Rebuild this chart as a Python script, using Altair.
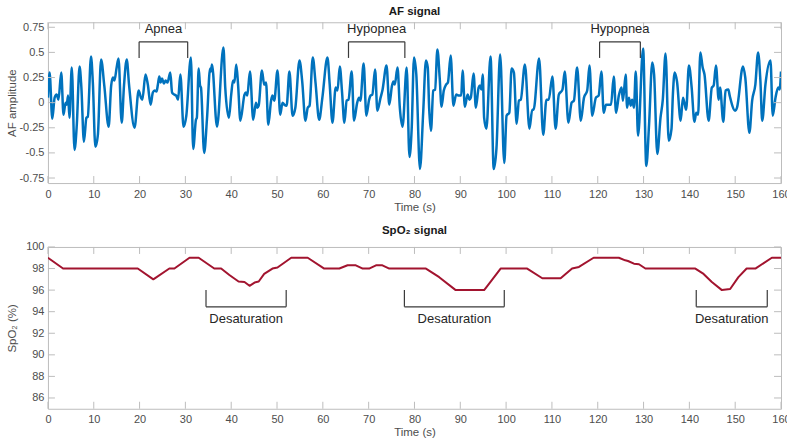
import altair as alt
import pandas as pd

FONT = "Liberation Sans"

# ---------------- data ----------------
af_t = [0.0, 0.36, 0.95, 1.46, 1.9, 2.3, 2.9, 3.4, 3.85, 4.1, 4.4, 4.7, 5.2, 5.8, 6.3, 6.9, 7.3, 7.85, 8.4, 8.7,
        9.4, 9.8, 10.35, 10.9, 11.6, 12.3, 13.25, 13.8, 14.2, 14.5, 15.0, 15.4, 16.1, 16.6, 17.2, 17.7, 18.9,
        19.8, 20.3, 20.6, 21.3, 21.8, 22.4, 22.9, 23.3, 23.7, 24.0, 24.3, 24.6, 24.9, 25.3, 25.7, 26.1, 26.7,
        27.1, 27.6, 28.0, 28.4, 28.9, 29.6, 30.2, 31.2, 31.7, 32.3, 32.5, 32.9, 33.2, 33.4, 34.1, 34.7, 35.4,
        35.6, 35.8, 36.9, 38.3, 38.7, 39.5, 40.0, 40.4, 40.7, 41.1, 41.5, 42.0, 42.9, 43.2, 43.5, 44.1, 44.8,
        45.4, 45.7, 46.0, 46.7, 47.2, 47.6, 48.1, 48.7, 49.0, 49.4, 50.1, 50.7, 51.2, 51.6, 52.1, 52.7, 53.4,
        54.0, 54.9, 55.5, 56.2, 56.7, 57.1, 57.8, 58.4, 59.2, 59.9, 61.0, 61.5, 62.1, 62.8, 63.2, 63.7, 64.2,
        64.7, 65.2, 65.6, 66.3, 66.8, 67.5, 67.9, 68.2, 68.9, 69.5, 70.1, 70.4, 70.8, 71.4, 71.9, 72.6, 73.0,
        73.9, 74.5, 75.1, 75.4, 75.7, 76.3, 76.8, 77.4, 78.3, 78.9, 79.4, 79.9, 80.4, 81.2, 81.9, 82.5, 82.9,
        83.2, 83.6, 84.1, 84.5, 85.0, 85.5, 85.9, 86.4, 86.9, 87.3, 87.9, 88.5, 89.1, 89.7, 90.2, 90.5, 91.0,
        91.6, 92.0, 92.3, 92.9, 93.4, 94.0, 94.3, 94.6, 94.9, 95.2, 95.7, 96.6, 97.3, 97.9, 98.7, 99.6, 100.1,
        100.7, 101.2, 101.7, 102.3, 102.8, 103.2, 104.1, 105.1, 105.7, 106.0, 107.2, 108.1, 108.8, 109.3,
        110.1, 110.8, 111.5, 112.3, 112.8, 113.6, 114.3, 114.8, 115.5, 116.3, 117.0, 117.7, 118.2, 118.8,
        119.6, 120.2, 120.8, 121.3, 121.8, 122.4, 122.9, 123.5, 124.0, 124.6, 125.2, 125.5, 126.1, 126.4,
        126.8, 127.2, 127.5, 127.9, 128.3, 128.8, 129.9, 130.6, 131.2, 131.9, 132.3, 133.0, 133.7, 134.2,
        134.8, 135.5, 136.1, 136.4, 136.8, 137.3, 138.1, 138.6, 139.0, 139.3, 139.9, 140.5, 141.1, 141.5,
        141.9, 142.4, 142.9, 143.3, 144.2, 144.9, 145.3, 145.8, 146.4, 146.7, 147.4, 147.9, 148.5, 148.8,
        150.0, 150.4, 151.7, 152.2, 153.1, 153.7, 154.4, 155.0, 155.5, 155.9, 156.6, 157.7, 158.2, 158.8,
        159.4, 159.7, 160.0]
af_v = [0.05, 0.30, -0.16, 0.05, 0.08, 0.03, 0.30, -0.12, 0.0, -0.02, 0.07, -0.15, 0.35, -0.47, -0.22, 0.36,
        0.15, -0.39, -0.15, -0.14, 0.46, 0.20, -0.44, -0.32, 0.43, 0.17, -0.24, 0.17, 0.25, 0.22, 0.35, 0.44,
        -0.20, 0.17, 0.43, 0.18, -0.25, 0.12, 0.05, 0.03, 0.28, 0.18, -0.02, 0.10, 0.12, 0.11, 0.18, 0.26, 0.20,
        0.24, 0.19, 0.22, 0.20, 0.30, 0.10, 0.08, 0.07, 0.03, 0.28, -0.24, -0.13, 0.45, -0.46, -0.17, -0.15,
        0.34, 0.17, 0.15, -0.50, -0.17, 0.34, 0.31, 0.38, -0.24, 0.55, 0.15, -0.15, 0.08, 0.22, 0.20, 0.38,
        0.18, -0.18, 0.08, 0.10, 0.07, 0.31, -0.17, 0.0, -0.05, -0.03, 0.32, 0.18, 0.20, -0.22, 0.02, 0.07,
        0.02, 0.32, -0.12, 0.0, -0.02, -0.03, 0.31, -0.13, -0.05, 0.42, 0.21, -0.18, -0.05, -0.03, 0.45, 0.20,
        -0.17, 0.05, 0.45, 0.18, -0.20, 0.15, 0.12, 0.36, 0.10, -0.20, 0.02, 0.03, 0.31, -0.18, 0.0, 0.05,
        0.02, 0.39, -0.13, 0.03, 0.07, 0.08, 0.33, -0.08, 0.05, 0.12, 0.37, -0.02, 0.17, 0.21, 0.18, 0.35,
        -0.05, -0.24, 0.35, -0.54, -0.25, 0.45, 0.28, -0.66, -0.10, 0.42, 0.35, -0.05, -0.28, 0.12, 0.13,
        0.53, 0.25, -0.04, 0.12, 0.18, 0.20, 0.47, -0.03, 0.08, 0.07, 0.07, 0.32, -0.04, 0.08, 0.03, 0.05,
        0.29, -0.05, 0.15, 0.17, 0.13, 0.28, -0.15, -0.26, 0.46, -0.66, -0.45, 0.48, -0.60, -0.13, -0.10,
        0.34, 0.30, -0.21, 0.02, 0.03, 0.38, -0.26, -0.07, -0.07, 0.44, -0.32, 0.03, 0.03, 0.26, -0.26, 0.08,
        0.13, 0.31, -0.20, 0.0, 0.02, 0.35, -0.18, 0.05, 0.12, 0.37, -0.13, 0.05, 0.07, 0.31, -0.10, -0.02,
        -0.02, -0.02, 0.26, -0.10, 0.07, 0.15, 0.02, 0.28, -0.05, 0.05, -0.03, 0.03, -0.05, 0.31, -0.33, 0.54,
        -0.63, -0.22, 0.40, 0.28, -0.51, -0.15, 0.03, 0.49, -0.38, -0.26, 0.08, 0.30, 0.21, -0.18, 0.05, -0.02,
        -0.07, 0.37, 0.15, -0.19, -0.10, -0.12, 0.50, 0.35, 0.28, -0.18, 0.15, 0.17, 0.37, 0.03, 0.15, -0.19,
        0.12, 0.13, 0.07, -0.08, -0.05, 0.36, 0.25, -0.30, 0.02, 0.18, 0.50, 0.22, -0.18, 0.18, 0.42, -0.13,
        0.05, 0.15, 0.13, 0.31]

spo2_t = [0, 3.3, 19.6, 23.0, 26.5, 27.6, 30.9, 32.9, 36.3, 37.8, 39.6, 41.6, 42.9, 44.0, 45.1, 46.0, 47.2,
          49.0, 50.1, 53.1, 56.7, 60.3, 63.6, 65.4, 67.2, 68.7, 70.1, 71.6, 73.0, 74.5, 82.5, 85.4, 89.0, 95.2,
          96.3, 98.8, 104.6, 107.9, 111.9, 114.4, 115.9, 119.1, 124.6, 126.0, 126.6, 127.9, 129.0, 130.4,
          141.3, 143.1, 144.9, 147.1, 148.9, 150.7, 152.5, 154.4, 158.0, 160.0]
spo2_v = [99.0, 98.0, 98.0, 97.0, 98.0, 98.0, 99.0, 99.0, 98.0, 98.0, 97.4, 96.8, 96.75, 96.4, 96.7, 96.8,
          97.5, 98.0, 98.1, 99.0, 99.0, 98.0, 98.0, 98.3, 98.3, 98.0, 98.0, 98.3, 98.3, 98.0, 98.0, 97.2,
          96.0, 96.0, 96.6, 98.0, 98.0, 97.1, 97.1, 98.0, 98.15, 99.0, 99.0, 98.76, 98.7, 98.45, 98.4, 98.0,
          98.0, 97.5, 96.75, 96.0, 96.1, 97.2, 98.0, 98.0, 99.0, 99.0]

x_ticks = [0, 10, 20, 30, 40, 50, 60, 70, 80, 90, 100, 110, 120, 130, 140, 150, 160]
af_ticks = [-0.75, -0.5, -0.25, 0, 0.25, 0.5, 0.75]
spo2_ticks = [86, 88, 90, 92, 94, 96, 98, 100]

resp_labels = ["Apnea", "Hypopnea", "Hypopnea"]
resp_start = [19.9, 65.6, 120.4]
resp_end = [30.5, 77.9, 129.3]
resp_top, resp_bottom, resp_text = 0.605, 0.445, 0.735

desat_labels = ["Desaturation", "Desaturation", "Desaturation"]
desat_start = [34.5, 77.8, 141.5]
desat_end = [52.0, 99.6, 157.0]
desat_top, desat_bottom, desat_text = 96.0, 94.45, 93.3

# ---------------- styling ----------------
W, H1, H2 = 734, 161, 162
TICK = 7
FRAME = "#bdbdbd"
ANN = "#3a3a3a"


def xenc(field):
    return alt.X(field, type="quantitative",
                 scale=alt.Scale(domain=[0, 160], nice=False, zero=False),
                 axis=alt.Axis(values=x_ticks, title="Time (s)", ticks=False, domain=False, grid=False,
                               labelPadding=5, titlePadding=2, labelFlush=False, labelOverlap=False))


def yenc(field, domain, ticks, title, fmt_expr):
    return alt.Y(field, type="quantitative",
                 scale=alt.Scale(domain=domain, nice=False, zero=False),
                 axis=alt.Axis(values=ticks, title=title, ticks=False, domain=False, grid=False,
                               labelPadding=4, titleX=-35, titleBaseline="middle",
                               labelExpr=fmt_expr, labelFlush=False, labelOverlap=False))


def panel(line_df, line_color, line_w, interp, ydomain, yticks, ytitle, fmt_expr, ev_df, H, title):
    X = xenc("t")
    Y = yenc("v", ydomain, yticks, ytitle, fmt_expr)
    line = alt.Chart(line_df).mark_line(color=line_color, strokeWidth=line_w, interpolate=interp,
                                        strokeJoin="round", clip=True).encode(x=X, y=Y)
    xt = pd.DataFrame({"t": x_ticks})
    yt = pd.DataFrame({"v": yticks})
    tick_style = dict(color=FRAME, strokeWidth=1)
    xb = alt.Chart(xt).mark_rule(**tick_style).encode(x=X, y=alt.value(H), y2=alt.value(H - TICK))
    xtop = alt.Chart(xt).mark_rule(**tick_style).encode(x=X, y=alt.value(0), y2=alt.value(TICK))
    yl = alt.Chart(yt).mark_rule(**tick_style).encode(y=Y, x=alt.value(0), x2=alt.value(TICK))
    yr = alt.Chart(yt).mark_rule(**tick_style).encode(y=Y, x=alt.value(W), x2=alt.value(W - TICK))

    Yh = yenc("yh", ydomain, yticks, ytitle, fmt_expr)
    hbar = alt.Chart(ev_df).mark_rule(color=ANN, strokeWidth=1.2).encode(
        x=xenc("t"), x2="t_end:Q", y=Yh)
    leg1 = alt.Chart(ev_df).mark_rule(color=ANN, strokeWidth=1.2).encode(
        x=xenc("t"), y=Yh, y2="yl2:Q")
    leg2 = alt.Chart(ev_df).mark_rule(color=ANN, strokeWidth=1.2).encode(
        x=xenc("t_end"), y=Yh, y2="yl2:Q")
    txt = alt.Chart(ev_df).mark_text(font=FONT, fontSize=13, color="#262626", baseline="middle").encode(
        x=xenc("tc"), y=yenc("ytxt", ydomain, yticks, ytitle, fmt_expr), text="label:N")

    return alt.layer(line, xb, xtop, yl, yr, hbar, leg1, leg2, txt).properties(
        width=W, height=H,
        title=alt.TitleParams(title, font=FONT, fontSize=11.5, fontWeight="bold", color="#1a1a1a",
                              anchor="middle", offset=4))


af_df = pd.DataFrame({"t": af_t, "v": af_v})
spo2_df = pd.DataFrame({"t": spo2_t, "v": spo2_v})

resp_df = pd.DataFrame({
    "label": resp_labels, "t": resp_start, "t_end": resp_end,
    "tc": [(a + b) / 2 for a, b in zip(resp_start, resp_end)],
    "yh": [resp_top] * 3, "yl2": [resp_bottom] * 3, "ytxt": [resp_text] * 3,
})
desat_df = pd.DataFrame({
    "label": desat_labels, "t": desat_start, "t_end": desat_end,
    "tc": [(a + b) / 2 for a, b in zip(desat_start, desat_end)],
    "yh": [desat_bottom] * 3, "yl2": [desat_top] * 3, "ytxt": [desat_text] * 3,
})

top = panel(af_df, "#0072BD", 2.5, "monotone", [-0.8, 0.8], af_ticks, "AF amplitude",
            "toString(datum.value)", resp_df, H1, "AF signal")
bottom = panel(spo2_df, "#A2142F", 2.0, "linear", [85, 100], spo2_ticks, "SpO\u2082 (%)",
               "toString(datum.value)", desat_df, H2, "SpO\u2082 signal")

chart = alt.vconcat(top, bottom, spacing=12).properties(
    padding={"left": 6, "top": 5, "right": -4, "bottom": 3}
).configure_view(stroke=FRAME, strokeWidth=1).configure_axis(
    labelFont=FONT, titleFont=FONT, labelFontSize=11, titleFontSize=11.5,
    labelColor="#4d4d4d", titleColor="#4d4d4d", titleFontWeight="normal"
)

chart.save("out.html", embed_options={"renderer": "svg", "actions": False})
